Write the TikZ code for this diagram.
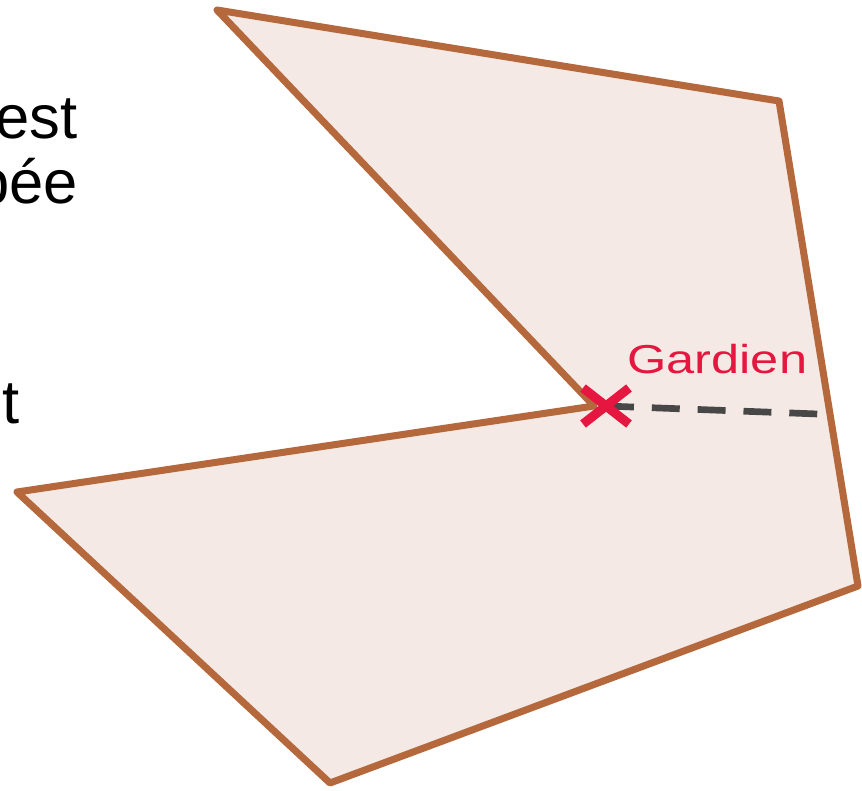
\documentclass[tikz,border=0pt]{standalone}
\usepackage{fontspec}
\setmainfont{Liberation Sans}
\usetikzlibrary{positioning}
\definecolor{murbrun}{HTML}{B4683C}
\definecolor{salle}{HTML}{F4E9E4}
\definecolor{gardrouge}{HTML}{E5163F}

\begin{document}
\begin{tikzpicture}[
    x=0.02cm, y=-0.02cm,
    mur/.style={draw=murbrun, line width=4pt, line join=round, fill=salle},
    vue/.style={draw=black!72, line width=3.8pt, dash pattern=on 15.9pt off 10.2pt},
    croix/.style={draw=gardrouge, line width=5.2pt},
    gardien/.style={text=gardrouge, inner sep=0pt, xscale=1.25,
        font=\fontsize{23}{27}\selectfont},
    bout/.style={inner sep=0pt, anchor=base east, font=\fontsize{35}{40}\selectfont}]
    \useasboundingbox (0,0) rectangle (862,791);

    % bouts de texte coupes a gauche
    \node[bout] (l1) at (78,138) {est};
    \node[bout] (l2) at (78,203) {pée};
    \node[bout] (l3) at (20,423) {t};

    % sommets de la salle
    \coordinate (A) at (217,10);
    \coordinate (B) at (779,101);
    \coordinate (C) at (858,586);
    \coordinate (D) at (330,783);
    \coordinate (E) at (17,492);
    \coordinate (R) at (594,406);
    \filldraw[mur] (A) -- (B) -- (C) -- (D) -- (E) -- (R) -- cycle;

    % gardien et sa vue
    \node[inner sep=0pt] (G) at (606,406) {};
    \coordinate (M) at (818,414);
    \draw[vue] (G.center) -- (M);
    \draw[croix] ([shift={(-23,-18)}]G.center) -- ([shift={(23,18)}]G.center);
    \draw[croix] ([shift={(-23,18)}]G.center) -- ([shift={(23,-18)}]G.center);
    \node[gardien, anchor=base west] (nom) at ([shift={(21,-33)}]G.center) {Gardien};
\end{tikzpicture}
\end{document}
